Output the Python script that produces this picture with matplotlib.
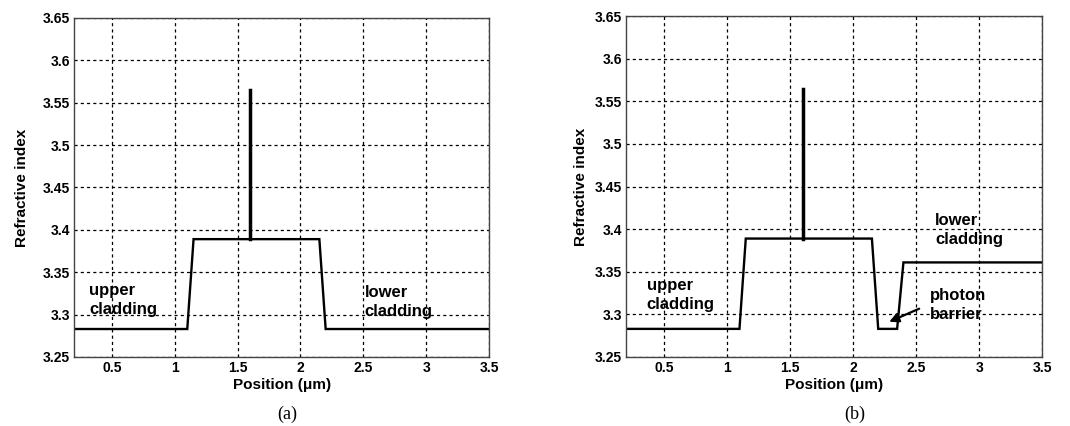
import numpy as np
import matplotlib.pyplot as plt

plt.rcParams['font.family'] = ['Liberation Sans', 'DejaVu Sans']
plt.rcParams['font.weight'] = 'bold'

# index profile, structure (a): symmetric claddings
pos_a = [0.2, 1.1, 1.15, 2.15, 2.2, 3.5]
n_a = [3.283, 3.283, 3.389, 3.389, 3.283, 3.283]

# structure (b): photon barrier then raised lower cladding
pos_b = [0.2, 1.1, 1.15, 2.15, 2.2, 2.35, 2.4, 3.5]
n_b = [3.283, 3.283, 3.389, 3.389, 3.283, 3.283, 3.361, 3.361]

# quantum well spike
spike_x = 1.6
spike_n = [3.389, 3.565]

xticks = [0.5, 1, 1.5, 2, 2.5, 3, 3.5]
xtick_labels = ['0.5', '1', '1.5', '2', '2.5', '3', '3.5']
yticks = [3.25, 3.3, 3.35, 3.4, 3.45, 3.5, 3.55, 3.6, 3.65]
ytick_labels = ['3.25', '3.3', '3.35', '3.4', '3.45', '3.5', '3.55', '3.6', '3.65']

fig = plt.figure(figsize=(10.7, 4.26), dpi=100)
ax_a = fig.add_axes([0.0692, 0.162, 0.388, 0.796])
ax_b = fig.add_axes([0.585, 0.162, 0.389, 0.800])


def setup(ax, ypad):
    ax.set_xlim(0.2, 3.5)
    ax.set_ylim(3.25, 3.65)
    ax.set_xticks(xticks)
    ax.set_xticklabels(xtick_labels, fontsize=10, fontweight='bold')
    ax.set_yticks(yticks)
    ax.set_yticklabels(ytick_labels, fontsize=10, fontweight='bold')
    ax.tick_params(length=0, pad=3)
    ax.grid(True, color='black', linestyle=(0, (2.5, 2.5)), linewidth=0.9)
    for s in ax.spines.values():
        s.set_color('#444444')
        s.set_linewidth(1.0)
    ax.set_xlabel('Position (\u03bcm)', fontsize=11, fontweight='bold', labelpad=2)
    ax.set_ylabel('Refractive index', fontsize=11, fontweight='bold', labelpad=ypad)


for ax, x, n, pad in [(ax_a, pos_a, n_a, 10), (ax_b, pos_b, n_b, 5)]:
    setup(ax, pad)
    ax.plot(x, n, color='black', linewidth=1.7, solid_joinstyle='miter')
    ax.plot([spike_x, spike_x], spike_n, color='black', linewidth=2.5)

txt = dict(fontsize=12, fontweight='bold', va='center', ha='left', linespacing=1.3)
ax_a.text(0.318, 3.317, 'upper\ncladding', **txt)
ax_a.text(2.508, 3.315, 'lower\ncladding', **txt)
ax_b.text(0.363, 3.323, 'upper\ncladding', **txt)
ax_b.text(2.65, 3.399, 'lower\ncladding', **txt)
ax_b.text(2.61, 3.311, 'photon\nbarrier', **txt)
ax_b.annotate('', xy=(2.267, 3.290), xytext=(2.545, 3.308),
              arrowprops=dict(arrowstyle='-|>', color='black', lw=1.6,
                              mutation_scale=14))

fig.text(287 / 1070, 1 - 414 / 426, '(a)', family='Liberation Serif',
         fontweight='normal', fontsize=13, ha='center', va='center')
fig.text(855 / 1070, 1 - 414 / 426, '(b)', family='Liberation Serif',
         fontweight='normal', fontsize=13, ha='center', va='center')

fig.savefig('out.png', dpi=100)
